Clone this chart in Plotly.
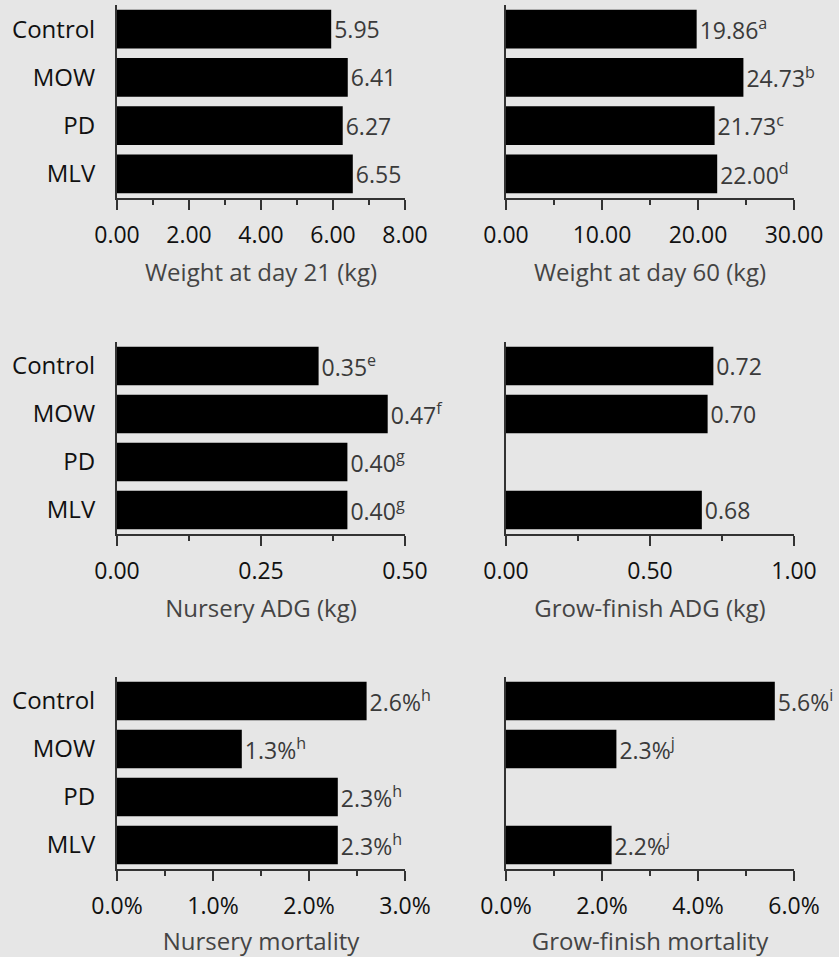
import plotly.graph_objects as go

categories = ["Control", "MOW", "PD", "MLV"]

weight21 = [5.95, 6.41, 6.27, 6.55]
weight21_sup = ["", "", "", ""]
weight60 = [19.86, 24.73, 21.73, 22.00]
weight60_sup = ["a", "b", "c", "d"]
nursery_adg = [0.35, 0.47, 0.40, 0.40]
nursery_adg_sup = ["e", "f", "g", "g"]
gf_adg = [0.72, 0.70, None, 0.68]
gf_adg_sup = ["", "", "", ""]
nursery_mort = [2.6, 1.3, 2.3, 2.3]
nursery_mort_sup = ["h", "h", "h", "h"]
gf_mort = [5.6, 2.3, None, 2.2]
gf_mort_sup = ["i", "j", "", "j"]

titles = ["Weight at day 21 (kg)", "Weight at day 60 (kg)",
          "Nursery ADG (kg)", "Grow-finish ADG (kg)",
          "Nursery mortality", "Grow-finish mortality"]

FONT = "Open Sans"
BG = "#e6e6e6"
AX = "#333333"

panels = [
    (weight21, weight21_sup, [0, 8], 2, ".2f", "", True),
    (weight60, weight60_sup, [0, 30], 10, ".2f", "", False),
    (nursery_adg, nursery_adg_sup, [0, 0.5], 0.25, ".2f", "", True),
    (gf_adg, gf_adg_sup, [0, 1], 0.5, ".2f", "", False),
    (nursery_mort, nursery_mort_sup, [0, 3], 1, ".1f", "%", True),
    (gf_mort, gf_mort_sup, [0, 6], 2, ".1f", "%", False),
]

W, H = 839, 957
xdoms = [[117 / W, 405 / W], [506 / W, 794 / W]]
rows_px = [(5, 198), (342, 534), (677, 869)]
ydoms = [[1 - b / H, 1 - t / H] for (t, b) in rows_px]

fig = go.Figure()
layout = {}
for i, (vals, sups, rng, dt, fmt, suf, show_cat) in enumerate(panels):
    r, c = divmod(i, 2)
    n = i + 1
    xa = "x" if n == 1 else f"x{n}"
    ya = "y" if n == 1 else f"y{n}"
    texts = []
    for v, s in zip(vals, sups):
        if v is None:
            texts.append("")
        else:
            t = format(v, fmt) + suf
            if s:
                t += f"<sup>{s}</sup>"
            texts.append(t)
    fig.add_trace(go.Bar(
        x=vals, y=categories, orientation="h",
        marker=dict(color="#000000", line=dict(width=0)),
        width=0.8,
        text=texts, textposition="outside", cliponaxis=False,
        textfont=dict(family=FONT, size=23, color="#3a3a3a"),
        xaxis=xa, yaxis=ya, showlegend=False, hoverinfo="skip",
    ))
    layout["xaxis" if n == 1 else f"xaxis{n}"] = dict(
        domain=xdoms[c], anchor=ya, range=rng, dtick=dt, tick0=0,
        tickformat=fmt, ticksuffix=suf, automargin=False,
        showline=True, linecolor=AX, linewidth=2,
        ticks="outside", ticklen=10, tickwidth=2, tickcolor=AX,
        minor=dict(dtick=dt / 2, tick0=0, ticks="outside", ticklen=5,
                   tickwidth=2, tickcolor=AX, showgrid=False),
        showgrid=False, zeroline=False, fixedrange=True,
        tickfont=dict(family=FONT, size=23, color="#111111"),
        ticklabelstandoff=5,
        title=dict(text=titles[i], standoff=16,
                   font=dict(family=FONT, size=24, color="#444444")),
    )
    layout["yaxis" if n == 1 else f"yaxis{n}"] = dict(
        domain=ydoms[r], anchor=xa, type="category",
        categoryorder="array", categoryarray=categories,
        range=[3.5, -0.5], automargin=False,
        showline=True, linecolor=AX, linewidth=2,
        ticks="", showgrid=False, zeroline=False, fixedrange=True,
        showticklabels=show_cat, ticklabelstandoff=15,
        tickfont=dict(family=FONT, size=24, color="#111111"),
    )

fig.update_layout(
    width=W, height=H,
    margin=dict(l=0, r=0, t=0, b=0, autoexpand=False),
    paper_bgcolor=BG, plot_bgcolor=BG,
    bargap=0.2,
    font=dict(family=FONT),
    **layout,
)

fig.write_html(
    "out.html",
    config={"displayModeBar": False, "staticPlot": True},
    post_script="document.body.style.margin='0';document.body.style.overflow='hidden';",
)
